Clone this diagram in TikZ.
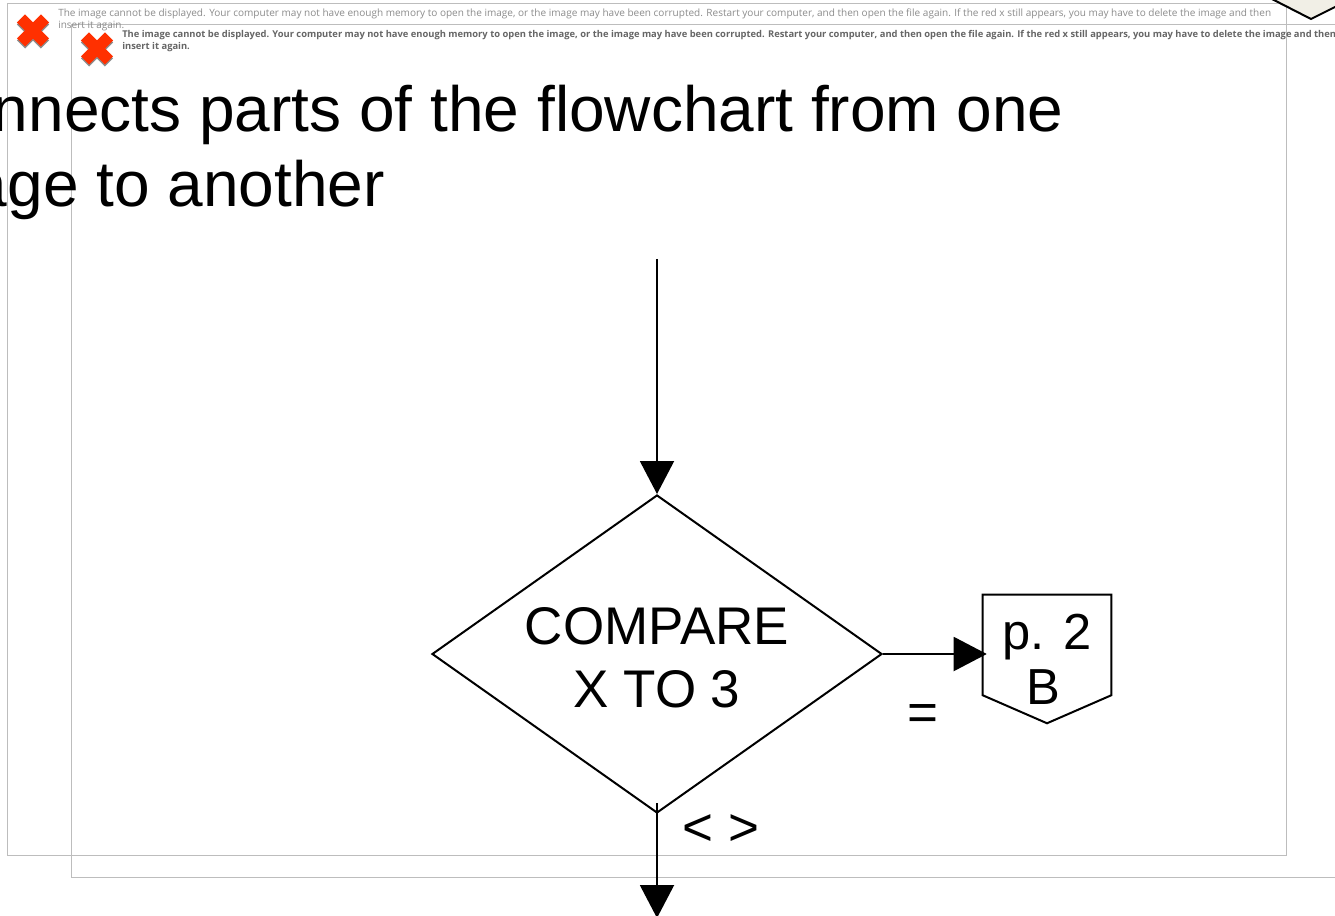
\documentclass[tikz,border=0pt]{standalone}
\usepackage{fontspec}
\setmainfont{Liberation Sans}
\newfontfamily\uifont{Open Sans}
\usetikzlibrary{arrows.meta,shapes.geometric}
\definecolor{framegray}{HTML}{BDBDBD}
\definecolor{lighttext}{HTML}{8C8C8C}
\definecolor{darktext}{HTML}{666666}
\definecolor{crossred}{HTML}{FF3000}
\definecolor{creamfill}{HTML}{F1EFE6}
\tikzset{
  x=0.75pt,y=-0.75pt,
  frameline/.style={draw=framegray,line width=0.75pt},
  flowline/.style={draw=black,line width=1.5pt},
  flowarrow/.style={flowline,-{Triangle[length=24.75pt,width=25.5pt]}},
  bigtext/.style={font=\fontsize{48}{56.25}\selectfont,inner sep=0pt,anchor=base east},
  flowtext/.style={font=\fontsize{39.75}{47.25}\selectfont,inner sep=0pt,align=center},
  notetext/.style={font=\uifont\fontsize{7.52}{8.4}\selectfont,inner sep=0pt,anchor=north west,align=left},
  redx/.pic={
    \draw[black!45,line width=8.5pt] (-12,-10.5) -- (12,13.5) (12,-10.5) -- (-12,13.5);
    \draw[crossred,line width=8.5pt] (-12,-12.5) -- (12,11.5) (12,-12.5) -- (-12,11.5);
  }
}
\begin{document}
\begin{tikzpicture}
\useasboundingbox (0,0) rectangle (1335,916);
\clip (0,0) rectangle (1335,916);
\fill[white] (0,0) rectangle (1335,916);
% image placeholder frames
\draw[frameline] (7.5,3.5) rectangle (1286.5,855.5);
\draw[frameline] (1345,24.5) -- (71.5,24.5) -- (71.5,877.5) -- (1345,877.5);
\draw[black,line width=1.5pt,fill=creamfill] (1268,-3) -- (1311,19) -- (1345,2) -- (1345,-3) -- cycle;
\pic at (33,31) {redx};
\pic at (97,49) {redx};
\node[notetext,text=lighttext] (noteA) at (58,9) {The image cannot be displayed. Your computer may not have enough memory to open the image, or the image may have been corrupted. Restart your computer, and then open the file again. If the red x still appears, you may have to delete the image and then\\insert it again.};
\node[notetext,text=darktext,font=\uifont\bfseries\fontsize{7.03}{8.9}\selectfont] (noteB) at (122,30.5) {The image cannot be displayed. Your computer may not have enough memory to open the image, or the image may have been corrupted. Restart your computer, and then open the file again. If the red x still appears, you may have to delete the image and then\\insert it again.};
% title
\node[bigtext] (titleA) at (1064,132) {Connects parts of the flowchart from one};
\node[bigtext] (titleB) at (385,207) {page to another};
% flowchart
\coordinate (topstart) at (657,259);
\node[draw,flowline,line width=1.5pt,diamond,shape aspect=1.415,minimum width=337.5pt,minimum height=238.5pt,inner sep=0pt,flowtext] (compare) at (657,654) {\rule{0pt}{34pt}COMPARE\\X TO 3};
\node[rectangle,minimum width=96pt,minimum height=96pt,inner sep=0pt,flowtext,font=\fontsize{38}{41.25}\selectfont] (page) at (1047,659) {p. 2\\B\hspace*{6pt}};
\draw[flowline,line join=miter] (page.north west) -- (page.north east) -- ([yshift=21pt]page.south east) -- (page.south) -- ([yshift=21pt]page.south west) -- cycle;
\coordinate (downstart) at (657,803);
\coordinate (downend) at (657,918);
\draw[flowarrow] (topstart) -- (compare.north);
\draw[flowarrow] (compare.east) -- ([xshift=3pt]compare.east -| page.west);
\draw[flowarrow] (downstart) -- (downend);
\node[flowtext] (eqlabel) at (923,718) {=};
\node[flowtext] (nelabel) at (721,830) {< >};
\end{tikzpicture}
\end{document}
